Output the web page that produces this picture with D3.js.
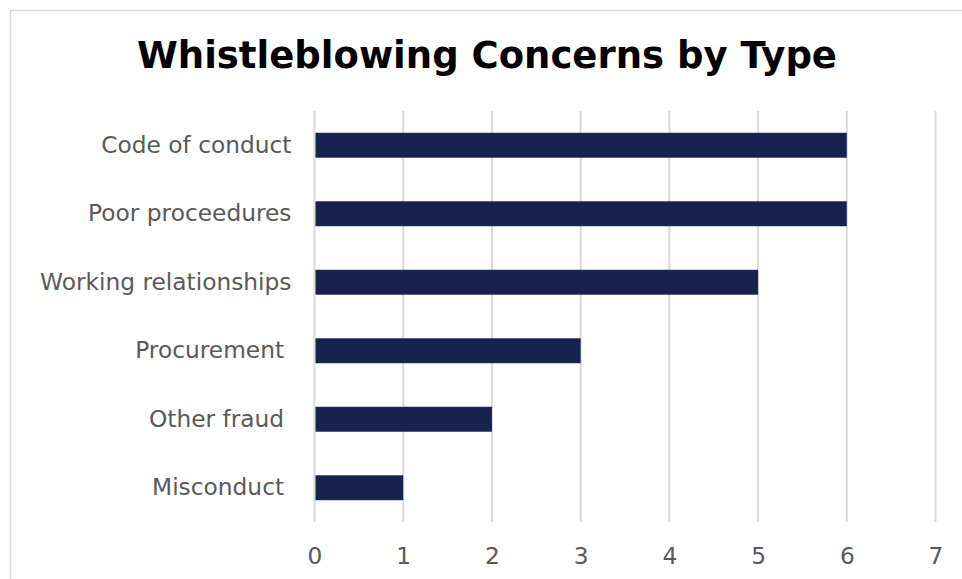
<!DOCTYPE html>
<html>
<head>
<meta charset="utf-8">
<script src="https://cdn.jsdelivr.net/npm/d3@7"></script>
<style>
  body { margin: 0; background: #fff; }
  svg text { font-family: "DejaVu Sans", Verdana, sans-serif; white-space: pre; }
</style>
</head>
<body>
<svg id="chart" width="962" height="579"></svg>
<script>
// chart data, top to bottom
var categories = ["Code of conduct", "Poor proceedures", "Working relationships", "Procurement ", "Other fraud ", "Misconduct "];
var counts = [6, 6, 5, 3, 2, 1];
var xTicks = [0, 1, 2, 3, 4, 5, 6, 7];

var svg = d3.select("#chart");

// outer chart border
svg.append("rect")
    .attr("x", 10.5).attr("y", 10.5)
    .attr("width", 970).attr("height", 600)
    .attr("fill", "#fff")
    .attr("stroke", "#d9d9d9").attr("stroke-width", 1.5);

svg.append("text")
    .attr("x", 487).attr("y", 68)
    .attr("text-anchor", "middle")
    .attr("font-size", 37).attr("font-weight", "bold")
    .attr("fill", "#000")
    .text("Whistleblowing Concerns by Type");

var x = d3.scaleLinear().domain([0, 7]).range([314.5, 935.5]);
var y = d3.scaleBand().domain(categories).range([111, 522]).paddingInner(0.636).paddingOuter(0.318);

// gridlines
svg.append("g").selectAll("line")
    .data(xTicks)
    .join("line")
    .attr("x1", function(d) { return x(d); })
    .attr("x2", function(d) { return x(d); })
    .attr("y1", 111).attr("y2", 522)
    .attr("stroke", "#d9d9d9").attr("stroke-width", 2);

// bars
svg.append("g").selectAll("rect")
    .data(categories)
    .join("rect")
    .attr("x", x(0) + 1)
    .attr("y", function(d) { return y(d); })
    .attr("width", function(d, i) { return x(counts[i]) - x(0) - 1; })
    .attr("height", y.bandwidth())
    .attr("fill", "#17224f");

// category labels
var yAxis = svg.append("g")
    .attr("transform", "translate(" + (x(0) - 1) + ",0)")
    .call(d3.axisLeft(y).tickSize(0).tickPadding(22));
yAxis.select(".domain").remove();
yAxis.selectAll("text")
    .attr("font-size", 23.3).attr("fill", "#595959")
    .attr("font-family", "DejaVu Sans, Verdana, sans-serif");

// value axis labels
var xAxis = svg.append("g")
    .attr("transform", "translate(0,522)")
    .call(d3.axisBottom(x).tickValues(xTicks).tickFormat(d3.format("d")).tickSize(0).tickPadding(25));
xAxis.select(".domain").remove();
xAxis.selectAll("text")
    .attr("font-size", 23.3).attr("fill", "#595959")
    .attr("font-family", "DejaVu Sans, Verdana, sans-serif");
</script>
</body>
</html>
